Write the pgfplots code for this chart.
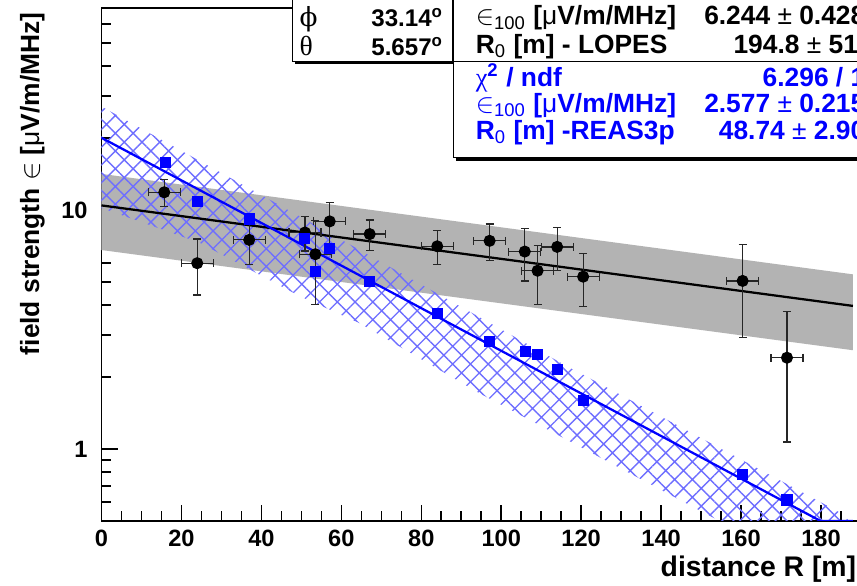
\documentclass[border=0pt]{standalone}
\usepackage{fontspec}
\setmainfont{Liberation Sans}
\newfontfamily\symfont{Liberation Serif}
\newfontfamily\phifont{DejaVu Serif}
\usepackage{pgfplots}
\pgfplotsset{compat=1.18}
\usetikzlibrary{patterns.meta}

\definecolor{bandgray}{RGB}{179,179,179}
\definecolor{hatchblue}{RGB}{110,110,255}
\newcommand\tickfont{\fontsize{9.4}{11}\selectfont\bfseries}
\newcommand\boxfont{\fontsize{10.5}{12}\selectfont\bfseries}
\newcommand\boxfontA{\fontsize{9.6}{11}\selectfont\bfseries}

\begin{document}
\begin{tikzpicture}
% the reference is cut on top and right, keep the same crop
\path[use as bounding box, clip] (-1.421cm,-0.91cm) rectangle (10.577cm,7.294cm);
\begin{axis}[
    at={(0,0)}, anchor=south west,
    scale only axis, width=10.604cm, height=7.182cm,
    ymode=log,
    xmin=0, xmax=189.5, ymin=0.5, ymax=70,
    xtick={0,20,...,180}, minor xtick={5,10,...,185},
    ytick={1,10}, yticklabels={1,10},
    minor ytick={0.6,0.7,0.8,0.9,2,3,4,5,6,7,8,9,20,30,40,50,60},
    xtick pos=bottom, ytick pos=left, tick align=inside,
    major tick length=6.5pt, minor tick length=3.8pt,
    every tick/.style={black, line width=0.6pt},
    axis line style={line width=0.7pt},
    tick label style={font=\tickfont},
    /pgf/number format/assume math mode=true,
    yticklabel style={xshift=-2pt},
    xlabel={distance R [m]},
    ylabel={field strength {\mdseries$\in$} [{\mdseries μ}V/m/MHz]},
    xlabel style={font=\fontsize{11.3}{13}\selectfont\bfseries, inner sep=0pt,
        at={(axis description cs:0.997,-0.109)}, anchor=base east},
    ylabel style={font=\fontsize{10.5}{12}\selectfont\bfseries, inner sep=0pt,
        at={(axis description cs:-0.0825,0.992)}, anchor=base east},
]
% LOPES fit band
\addplot[fill=bandgray, draw=none] coordinates {
(0,14.16) (188,5.38) (188,2.59) (0,6.80)
} --cycle;
% REAS3p fit band
\addplot[pattern={Hatch[angle=45,distance=5pt,line width=0.55pt]}, pattern color=hatchblue, draw=none] coordinates {
(0,27.1) (49.6,9.40) (114.6,2.31) (185.4,0.535) (189.5,0.45)
(189.5,0.24) (154.6,0.50) (94.6,1.71) (64.6,3.36) (49.6,4.36) (24.6,7.29) (0,10.2)
} --cycle;
% fits
\addplot[black, line width=0.9pt] coordinates {(0,10.45) (188,3.97)};
\addplot[blue, line width=0.9pt] coordinates {(0,20.05) (179.9,0.5) (188,0.5)};
% LOPES measurements
\addplot[black, only marks, mark=*, mark size=2.2pt,
    error bars/.cd, x dir=both, x explicit, y dir=both, y explicit,
    error bar style={line width=0.5pt, black!85},
    error mark options={rotate=90, mark size=1.6pt, line width=0.5pt, black!85}]
coordinates {
(15.7,11.86) +- (4,1.55)
(23.95,5.99) +- (4,1.58)
(36.95,7.50) +- (4,1.60)
(50.9,8.05) +- (4,1.32)
(53.5,6.53) +- (4,2.50)
(57.1,8.96) +- (4,1.82)
(67.1,7.93) +- (4,1.14)
(84.0,7.05) +- (4,1.15)
(97.1,7.43) +- (4,1.30)
(105.9,6.70) +- (4,1.65)
(109.1,5.57) +- (4,1.55)
(114.0,7.01) +- (4,1.41)
(120.5,5.26) +- (4,1.32)
(160.4,5.05) +- (4,2.12)
(171.5,2.41) +- (4,1.34)
};
% REAS3p simulation
\addplot[blue, only marks, mark=square*, mark size=2pt] coordinates {
(15.9,15.85) (23.95,10.81) (36.95,9.17) (50.9,7.63) (53.5,5.52) (57.1,6.90)
(67.1,5.01) (84.0,3.68) (97.1,2.82) (106.0,2.57) (109.1,2.48) (114.0,2.15)
(120.6,1.60) (160.3,0.785) (171.5,0.612)
};
\end{axis}

% stat boxes, in pixel units of the reference
\begin{scope}[shift={(-1.421cm,7.294cm)}, x=0.014cm, y=-0.014cm]
\fill (295,-20) rectangle (455.5,64);
\draw[fill=white, line width=0.5pt] (292.3,-20) rectangle (452.5,61.5);
\node[anchor=base west, inner sep=0, font=\fontsize{10.5}{12}\selectfont\phifont] at (299,26.7) {ϕ};
\node[anchor=base east, inner sep=0, font=\boxfontA] at (443.5,26.7) {33.14\textsuperscript{o}};
\node[anchor=base west, inner sep=0, font=\fontsize{11}{12}\selectfont\symfont] at (299,55.7) {θ};
\node[anchor=base east, inner sep=0, font=\boxfontA] at (443.5,55.7) {5.657\textsuperscript{o}};

\fill (456,-20) rectangle (900,64);
\draw[fill=white, line width=0.5pt] (453.3,-20) rectangle (900,61.5);
\node[anchor=base west, inner sep=0, font=\boxfont] at (475,25) {{\mdseries$\in$}\textsubscript{\mdseries 100} [{\mdseries μ}V/m/MHz]};
\node[anchor=base east, inner sep=0, font=\boxfont] at (880,25) {6.244 {\mdseries ±} 0.4283};
\node[anchor=base west, inner sep=0, font=\boxfont] at (475,53.3) {R\textsubscript{\mdseries 0} [m] - LOPES};
\node[anchor=base east, inner sep=0, font=\boxfont] at (880,53.3) {194.8 {\mdseries ±} 51.5};

\fill (456,64) rectangle (900,160.5);
\draw[fill=white, line width=0.5pt] (453.3,61.5) rectangle (900,157.7);
\node[anchor=base west, inner sep=0, font=\boxfont, text=blue] at (475,86) {{\mdseries\symfont χ}\textsuperscript{2} / ndf};
\node[anchor=base east, inner sep=0, font=\boxfont, text=blue] at (880,86) {6.296 / 13};
\node[anchor=base west, inner sep=0, font=\boxfont, text=blue] at (475,112) {{\mdseries$\in$}\textsubscript{\mdseries 100} [{\mdseries μ}V/m/MHz]};
\node[anchor=base east, inner sep=0, font=\boxfont, text=blue] at (880,112) {2.577 {\mdseries ±} 0.2155};
\node[anchor=base west, inner sep=0, font=\boxfont, text=blue] at (475,139.3) {R\textsubscript{\mdseries 0} [m] -REAS3p};
\node[anchor=base east, inner sep=0, font=\boxfont, text=blue] at (880,139.3) {48.74 {\mdseries ±} 2.905};
\end{scope}
\end{tikzpicture}
\end{document}
